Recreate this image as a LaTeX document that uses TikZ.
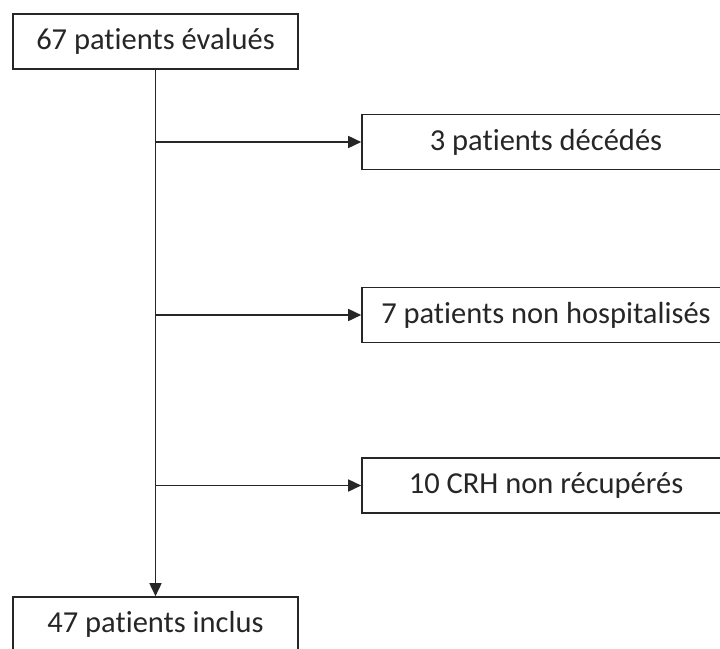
\documentclass[tikz,border=0pt]{standalone}
\usepackage{fontspec}
\setmainfont{Carlito}[Ligatures={NoCommon}]
\usetikzlibrary{arrows.meta}
\begin{document}
\begin{tikzpicture}[x=1pt,y=-1pt,
  boxstyle/.style={draw=black!85, line width=1.6pt, rectangle, inner sep=0pt,
    font=\fontsize{30.5}{36}\selectfont, text=black!85, minimum height=55pt},
  leftbox/.style={boxstyle, minimum width=285pt},
  rightbox/.style={boxstyle, minimum width=368pt},
  conn/.style={draw=black!85, line width=1.6pt, -{Triangle[length=13pt,width=12pt]}}]
\clip (0,0) rectangle (720,648);
\fill[white] (0,0) rectangle (720,648);
\node[leftbox] (top) at (155.5,41.5) {67 patients évalués};
\node[leftbox] (bot) at (155.5,624.5) {47 patients inclus};
\node[rightbox] (b1) at (546,142) {3 patients décédés};
\node[rightbox] (b2) at (546,315) {7 patients non hospitalisés};
\node[rightbox] (b3) at (546,485.5) {10 CRH non récupérés};
\coordinate (j1) at (top.south |- b1.west);
\coordinate (j2) at (top.south |- b2.west);
\coordinate (j3) at (top.south |- b3.west);
\draw[conn] (top.south) -- (bot.north);
\draw[conn] (j1) -- (b1.west);
\draw[conn] (j2) -- (b2.west);
\draw[conn] (j3) -- (b3.west);
\end{tikzpicture}
\end{document}
